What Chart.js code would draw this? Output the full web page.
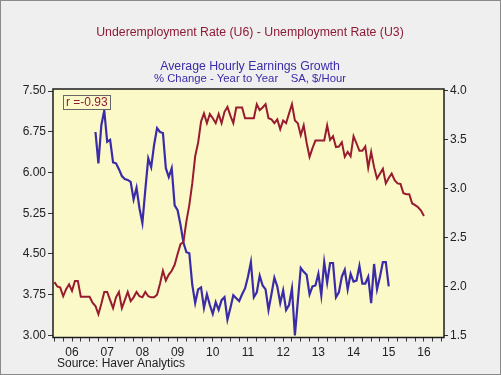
<!DOCTYPE html>
<html>
<head>
<meta charset="utf-8">
<script src="https://cdn.jsdelivr.net/npm/chart.js@4"></script>
<style>
  html, body { margin: 0; padding: 0; background: #efefef; }
</style>
</head>
<body>
<canvas id="chart" width="501" height="375"></canvas>
<script>
// Monthly series. U6-U3 spread starts Jan 2006, earnings growth starts Mar 2007.
const startYear = 2006;
const spreadStartMonth = 0;
const earningsStartMonth = 14;

const spreadValues = [
  3.98, 3.90, 3.88, 3.72, 3.85, 3.94, 3.82, 4.00, 4.00, 3.71, 3.71, 3.71,
  3.71, 3.60, 3.54, 3.39, 3.58, 3.80, 3.80, 3.65, 3.50, 3.70, 3.80, 3.50,
  3.65, 3.80, 3.63, 3.70, 3.80, 3.72, 3.70, 3.80, 3.72, 3.70, 3.70, 3.75,
  3.95, 4.19, 4.01, 4.12, 4.19, 4.30, 4.50, 4.68, 4.72, 5.10, 5.40, 5.80,
  6.30, 6.55, 6.94, 7.09, 6.91, 7.08, 7.00, 6.91, 7.08, 6.91, 7.12, 7.21,
  7.05, 6.91, 7.20, 7.20, 7.20, 7.00, 7.00, 7.00, 7.00, 7.26, 7.15, 7.20,
  7.26, 7.00, 6.98, 6.91, 6.98, 6.80, 6.96, 6.91, 7.09, 7.26, 6.96, 6.91,
  6.69, 6.87, 6.55, 6.29, 6.45, 6.59, 6.59, 6.59, 6.59, 6.87, 6.60, 6.67,
  6.47, 6.48, 6.56, 6.29, 6.38, 6.30, 6.67, 6.54, 6.40, 6.40, 6.48, 6.09,
  6.38, 6.10, 5.89, 5.98, 6.07, 5.80, 5.90, 5.98, 5.86, 5.80, 5.79, 5.62,
  5.60, 5.60, 5.43, 5.40, 5.36, 5.30, 5.20
];

const earningsValues = [
  3.58, 3.26, 3.65, 3.80, 3.48, 3.50, 3.27, 3.26, 3.20, 3.13,
  3.10, 3.09, 3.07, 2.89, 3.01, 2.80, 2.65, 2.99, 3.31, 3.22,
  3.45, 3.62, 3.58, 3.57, 3.21, 3.12, 3.21, 2.83, 2.78, 2.63,
  2.45, 2.35, 2.34, 2.02, 1.83, 1.97, 1.99, 1.78, 1.92, 1.81,
  1.72, 1.84, 1.76, 1.86, 1.89, 1.66, 1.78, 1.91, 1.88, 1.85,
  1.92, 1.98, 2.10, 2.25, 1.89, 1.94, 2.11, 2.01, 1.97, 1.76,
  1.92, 2.09, 2.00, 1.83, 1.96, 1.76, 1.81, 1.98, 1.50, 1.85,
  2.19, 2.15, 2.12, 1.92, 2.00, 2.01, 2.13, 1.91, 2.25, 2.04,
  2.24, 2.24, 1.89, 1.94, 2.10, 2.17, 1.97, 2.13, 2.05, 2.06,
  2.21, 2.03, 2.03, 2.10, 1.83, 2.23, 1.97, 2.10, 2.25, 2.25,
  2.00
];

const yearLabels = ["06", "07", "08", "09", "10", "11", "12", "13", "14", "15", "16"];
const leftTicks = [3.00, 3.75, 4.50, 5.25, 6.00, 6.75, 7.50];
const rightTicks = [1.5, 2.0, 2.5, 3.0, 3.5, 4.0];

const titleMain = "Underemployment Rate (U6) - Unemployment Rate (U3)";
const titleSecond = "Average Hourly Earnings Growth";
const titleSecondSub = "% Change - Year to Year    SA, $/Hour";
const correlationText = "r =-0.93";
const sourceText = "Source: Haver Analytics";

const RED = "#981b30";
const BLUE = "#3a2ca8";
const FONT = "'Liberation Sans', Arial, sans-serif";

function toPoints(values, startMonth) {
  return values.map((v, i) => ({ x: startYear + (startMonth + i) / 12, y: v }));
}

// quarterly tick marks; only the mid-year one carries a label
const quarterTicks = [];
for (let y = startYear; y <= 2017; y++) {
  [0, 0.25, 0.5, 0.75].forEach((q) => {
    if (y + q <= 2017) quarterTicks.push({ value: y + q });
  });
}

// ---------- Background, frame and text ----------

const decorations = {
  id: "decorations",
  beforeDraw(chart) {
    const { ctx, chartArea: a } = chart;
    ctx.save();
    ctx.fillStyle = "#efefef";
    ctx.fillRect(0, 0, chart.width, chart.height);
    ctx.fillStyle = "#fcf9c9";
    ctx.fillRect(a.left, a.top, a.right - a.left, a.bottom - a.top);

    ctx.textAlign = "center";
    ctx.textBaseline = "middle";
    ctx.fillStyle = "#8e1b36";
    ctx.font = `12.3px ${FONT}`;
    ctx.fillText(titleMain, 250, 33);
    ctx.fillStyle = BLUE;
    ctx.fillText(titleSecond, 250, 67);
    ctx.font = `11.3px ${FONT}`;
    ctx.fillText(titleSecondSub, 250, 79);
    ctx.restore();
  },
  afterDraw(chart) {
    const { ctx, chartArea: a } = chart;
    ctx.save();
    ctx.strokeStyle = "#1c1c1c";
    ctx.lineWidth = 1.5;
    ctx.strokeRect(a.left, a.top, a.right - a.left, a.bottom - a.top);

    // correlation box
    ctx.fillStyle = "#fcf9c9";
    ctx.fillRect(63.5, 95.5, 47, 14);
    ctx.strokeStyle = "#666";
    ctx.lineWidth = 1;
    ctx.strokeRect(63.5, 95.5, 47, 14);
    ctx.fillStyle = "#8e1b36";
    ctx.font = `12px ${FONT}`;
    ctx.textBaseline = "middle";
    ctx.fillText(correlationText, 66, 103);

    ctx.fillStyle = "#222";
    ctx.font = `12px ${FONT}`;
    ctx.fillText(sourceText, 57, 364);

    ctx.strokeStyle = "#8a8a8a";
    ctx.strokeRect(0.5, 0.5, chart.width - 1, chart.height - 1);
    ctx.restore();
  },
};

// ---------- Chart ----------

const tickFont = { family: FONT, size: 12 };

new Chart(document.getElementById("chart"), {
  type: "line",
  data: {
    datasets: [
      {
        label: "U6 - U3",
        data: toPoints(spreadValues, spreadStartMonth),
        yAxisID: "y",
        borderColor: RED,
        borderWidth: 2,
        pointRadius: 0,
        tension: 0,
      },
      {
        label: "Average Hourly Earnings Growth",
        data: toPoints(earningsValues, earningsStartMonth),
        yAxisID: "y1",
        borderColor: BLUE,
        borderWidth: 2.2,
        pointRadius: 0,
        tension: 0,
      },
    ],
  },
  options: {
    responsive: false,
    animation: false,
    devicePixelRatio: 1,
    layout: { padding: { top: 89, left: 0, right: 0, bottom: 0 } },
    plugins: { legend: { display: false }, tooltip: { enabled: false } },
    scales: {
      x: {
        type: "linear",
        position: "bottom",
        min: 2005.96,
        max: 2017.07,
        afterBuildTicks: (s) => { s.ticks = quarterTicks.map((t) => ({ ...t })); },
        afterFit: (s) => { s.height = 37.5; },
        border: { display: false },
        grid: { drawOnChartArea: false, drawTicks: true, tickLength: 4, color: "#333" },
        ticks: {
          autoSkip: false,
          maxRotation: 0,
          padding: 4,
          color: "#222",
          font: tickFont,
          callback: (v) => {
            const yr = Math.floor(v + 1e-6);
            return Math.abs(v - yr - 0.5) < 0.01 ? yearLabels[yr - startYear] : "";
          },
        },
      },
      y: {
        position: "left",
        min: 2.96,
        max: 7.54,
        afterBuildTicks: (s) => { s.ticks = leftTicks.map((v) => ({ value: v })); },
        afterFit: (s) => { s.width = 53; },
        border: { display: false },
        grid: { drawOnChartArea: false, drawTicks: true, tickLength: 5, color: "#333" },
        ticks: { padding: 2, color: "#222", font: tickFont, callback: (v) => v.toFixed(2) },
      },
      y1: {
        position: "right",
        min: 1.478,
        max: 4.02,
        afterBuildTicks: (s) => { s.ticks = rightTicks.map((v) => ({ value: v })); },
        afterFit: (s) => { s.width = 57; },
        border: { display: false },
        grid: { drawOnChartArea: false, drawTicks: true, tickLength: 4, color: "#333" },
        ticks: { padding: 2, color: "#222", font: tickFont, callback: (v) => v.toFixed(1) },
      },
    },
  },
  plugins: [decorations],
});
</script>
</body>
</html>
